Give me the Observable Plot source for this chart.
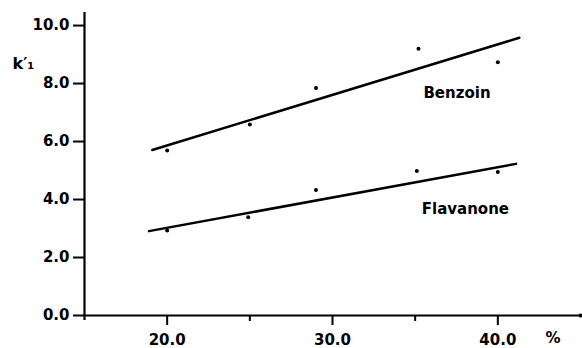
<!DOCTYPE html>
<html><head>
<meta charset="utf-8">
<script src="https://cdn.jsdelivr.net/npm/d3@7"></script>
<script src="https://cdn.jsdelivr.net/npm/@observablehq/plot@0.6"></script>
<style>body{margin:0;background:#fff}</style>
</head><body><div id="chart"></div>
<script>
// Data
const benzoinX = [20, 25, 29, 35.2, 40];
const benzoinY = [5.69, 6.59, 7.85, 9.2, 8.73];
const flavanoneX = [20, 24.9, 29, 35.1, 40];
const flavanoneY = [2.93, 3.39, 4.33, 4.98, 4.95];
const benzoinFitX = [19.1, 41.3];
const benzoinFitY = [5.71, 9.58];
const flavanoneFitX = [18.9, 41.1];
const flavanoneFitY = [2.91, 5.23];
const seriesNames = ["Benzoin", "Flavanone"];
const labelX = [35.5, 35.4];
const labelY = [7.66, 3.67];
const yTicks = [0, 2, 4, 6, 8, 10];
const xMajorTicks = [20, 30, 40];
const xMinorTicks = [25, 35];
const xAxisLabel = "%";
const yAxisLabel = "k\u2032\u2081";

const pts = (xs, ys) => xs.map((x, i) => ({x, y: ys[i]}));
const font = "DejaVu Sans, sans-serif";

const chart = Plot.plot({
  width: 582,
  height: 348,
  marginLeft: 84,
  marginRight: 2,
  marginTop: 12,
  marginBottom: 33,
  style: {fontFamily: font, fontWeight: "bold", fontSize: "15px", background: "#fff", color: "#000"},
  x: {domain: [15, 45]},
  y: {domain: [0, 10.45]},
  marks: [
    Plot.ruleX([15], {strokeWidth: 2.2, insetBottom: -5}),
    Plot.ruleY([0], {strokeWidth: 2.2}),
    Plot.dot([45], {x: d => d, y: () => 0, r: 2, fill: "#000", stroke: null}),
    Plot.axisY(yTicks, {tickSize: 11, tickPadding: 4, strokeWidth: 2, tickFormat: d3.format(".1f"), label: null, fontSize: 15}),
    Plot.axisX(xMajorTicks, {tickSize: 10, tickPadding: 9, strokeWidth: 2, tickFormat: d3.format(".1f"), label: null, fontSize: 15}),
    Plot.axisX(xMinorTicks, {tickSize: 6, strokeWidth: 2, text: null, label: null}),
    Plot.line(pts(benzoinFitX, benzoinFitY), {x: "x", y: "y", strokeWidth: 2.5}),
    Plot.line(pts(flavanoneFitX, flavanoneFitY), {x: "x", y: "y", strokeWidth: 2.5}),
    Plot.dot(pts(benzoinX, benzoinY), {x: "x", y: "y", r: 2, fill: "#000", stroke: null}),
    Plot.dot(pts(flavanoneX, flavanoneY), {x: "x", y: "y", r: 2, fill: "#000", stroke: null}),
    Plot.text(seriesNames, {x: (d, i) => labelX[i], y: (d, i) => labelY[i], text: d => d, textAnchor: "start", fontSize: 15, fontWeight: "bold"}),
    Plot.text([yAxisLabel], {frameAnchor: "top-left", dx: -72, dy: 45, text: d => d, textAnchor: "start", fontSize: 16, fontWeight: "bold"}),
    Plot.text([xAxisLabel], {frameAnchor: "bottom-right", dx: -20, dy: 27, text: d => d, fontSize: 15, fontWeight: "bold"})
  ]
});
document.getElementById("chart").appendChild(chart);
</script>
</body></html>
